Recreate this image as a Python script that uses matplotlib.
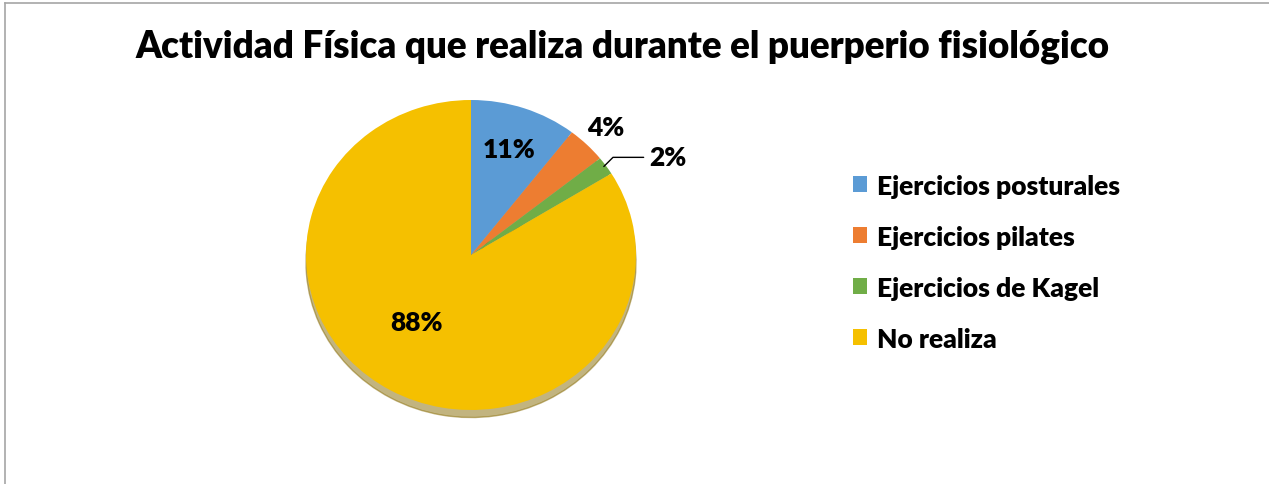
import numpy as np
import matplotlib.pyplot as plt
from matplotlib.lines import Line2D

categorias = ['Ejercicios posturales', 'Ejercicios pilates', 'Ejercicios de Kagel', 'No realiza']
valores = [11, 4, 2, 88]
etiquetas = ['11%', '4%', '2%', '88%']
colores = ['#5B9BD5', '#ED7D31', '#70AD47', '#F5C000']

W, H = 1269, 485
fig = plt.figure(figsize=(W / 100, H / 100), dpi=100)
plt.rcParams['font.family'] = ['Lato', 'DejaVu Sans']

# zona del pastel en pixeles: x 306..636, y 101..411
ax = fig.add_axes([306 / W, 1 - 411 / H, 330 / W, 310 / H])
wedges, _ = ax.pie(valores, colors=colores, startangle=90, counterclock=False,
                   radius=1, shadow={'ox': 0, 'oy': -0.035, 'shade': 0.45})
ax.set_aspect('auto')
ax.set_xlim(-1, 1)
ax.set_ylim(-1, 1)
ax.axis('off')

dist = [0.72, 1.16, None, 0.55]
for w, lab, d in zip(wedges, etiquetas, dist):
    ang = np.deg2rad((w.theta1 + w.theta2) / 2)
    if d is None:
        x0, y0 = np.cos(ang) * 0.97, np.sin(ang) * 0.97
        ax.annotate(lab, xy=(x0, y0), xytext=(1.08, 0.63), fontsize=19, fontweight='heavy',
                    ha='left', va='center',
                    arrowprops=dict(arrowstyle='-', color='black', lw=1,
                                    connectionstyle='angle,angleA=0,angleB=45,rad=0',
                                    relpos=(0, 0.5)))
    else:
        if lab == '88%':
            x0, y0 = -0.33, -0.43
        else:
            x0, y0 = np.cos(ang) * d, np.sin(ang) * d
        ax.text(x0, y0, lab, fontsize=19, fontweight='heavy', ha='center', va='center')

fig.text(623 / W, 1 - 47 / H, 'Actividad Física que realiza durante el puerperio fisiológico',
         fontsize=26.5, fontweight='heavy', ha='center', va='center')

fig.legend(wedges, categorias, loc='upper left', bbox_to_anchor=(829 / W, 1 - 151 / H),
           frameon=False, prop={'size': 19, 'weight': 'heavy'},
           handlelength=0.55, handleheight=0.55, handletextpad=0.35, labelspacing=1.02)

fig.add_artist(Line2D([5 / W, 1], [1 - 4 / H, 1 - 4 / H], color='#A6A6A6', lw=1.2))
fig.add_artist(Line2D([5 / W, 5 / W], [0, 1 - 4 / H], color='#A6A6A6', lw=1.2))

fig.savefig('out.png', dpi=100)
